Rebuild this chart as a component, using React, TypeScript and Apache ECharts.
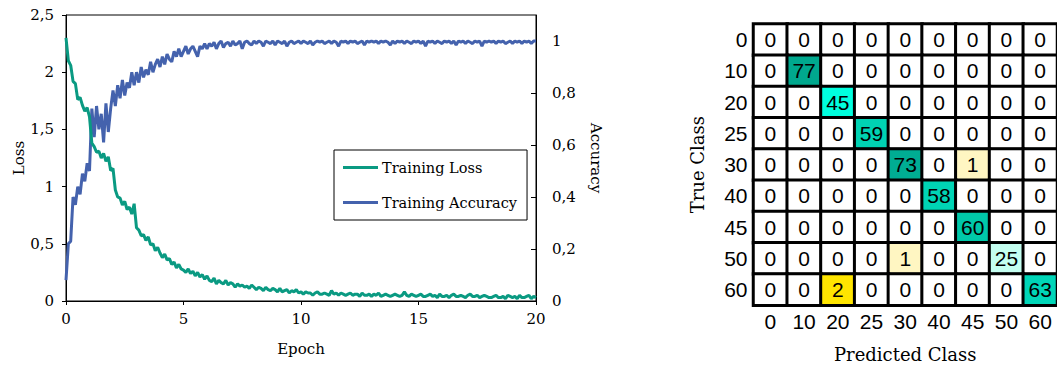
import React, { useEffect, useRef } from "react";
import * as echarts from "echarts";

const EPOCH_STEP = 0.1;

const lossValues = [
  2.30, 2.10, 2.06, 1.92, 1.90, 1.76, 1.78, 1.71, 1.66, 1.69, 1.61,
  1.38, 1.35, 1.30, 1.31, 1.25, 1.29, 1.22, 1.26, 1.14, 1.16,
  0.97, 0.91, 0.90, 0.84, 0.87, 0.80, 0.82, 0.76, 0.85, 0.64,
  0.62, 0.57, 0.58, 0.53, 0.56, 0.49, 0.50, 0.44, 0.47, 0.42,
  0.38, 0.41, 0.36, 0.37, 0.32, 0.34, 0.29, 0.32, 0.28, 0.27,
  0.25, 0.28, 0.24, 0.26, 0.22, 0.25, 0.21, 0.23, 0.19, 0.22,
  0.18, 0.17, 0.20, 0.15, 0.18, 0.16, 0.15, 0.18, 0.14, 0.16,
  0.15, 0.12, 0.15, 0.13, 0.14, 0.12, 0.13, 0.11, 0.14, 0.12,
  0.10, 0.12, 0.11, 0.09, 0.12, 0.10, 0.09, 0.11, 0.10, 0.08,
  0.11, 0.08, 0.09, 0.10, 0.07, 0.09, 0.08, 0.10, 0.07, 0.08,
  0.06, 0.08, 0.07, 0.07, 0.05, 0.07, 0.08, 0.06, 0.06, 0.07,
  0.06, 0.05, 0.09, 0.06, 0.07, 0.05, 0.07, 0.06, 0.05, 0.06,
  0.07, 0.05, 0.06, 0.06, 0.04, 0.07, 0.05, 0.05, 0.06, 0.04,
  0.06, 0.05, 0.07, 0.04, 0.05, 0.06, 0.05, 0.04, 0.05, 0.06,
  0.05, 0.04, 0.05, 0.08, 0.05, 0.04, 0.06, 0.05, 0.04, 0.05,
  0.06, 0.04, 0.04, 0.05, 0.06, 0.04, 0.05, 0.03, 0.06, 0.04,
  0.04, 0.05, 0.03, 0.05, 0.06, 0.04, 0.04, 0.05, 0.04, 0.03,
  0.05, 0.06, 0.04, 0.04, 0.05, 0.03, 0.04, 0.05, 0.04, 0.03,
  0.03, 0.04, 0.05, 0.03, 0.03, 0.04, 0.02, 0.05, 0.04, 0.03,
  0.04, 0.02, 0.05, 0.03, 0.03, 0.04, 0.05, 0.02, 0.04, 0.03,
];

const accuracyValues = [
  0.08, 0.22, 0.23, 0.40, 0.37, 0.44, 0.41, 0.49, 0.46, 0.53, 0.50,
  0.74, 0.63, 0.75, 0.66, 0.72, 0.61, 0.76, 0.65, 0.74, 0.81,
  0.75, 0.83, 0.78, 0.85, 0.79, 0.84, 0.82, 0.88, 0.83, 0.88,
  0.84, 0.90, 0.86, 0.89, 0.87, 0.92, 0.88, 0.91, 0.93, 0.90,
  0.94, 0.91, 0.95, 0.93, 0.92, 0.96, 0.94, 0.97, 0.94, 0.96,
  0.98, 0.95, 0.97, 0.98, 0.96, 0.94, 0.98, 0.97, 0.99, 0.97,
  0.99, 0.98, 0.995, 0.97, 0.99, 1.00, 0.975, 0.99, 0.995, 0.98,
  1.00, 0.985, 0.99, 1.00, 0.97, 0.995, 1.00, 0.99, 0.985, 1.00,
  0.99, 1.00, 0.995, 0.98, 1.00, 0.995, 0.99, 1.00, 0.985, 1.00,
  0.995, 0.99, 1.00, 0.98, 0.995, 1.00, 0.99, 0.995, 1.00, 0.99,
  1.00, 0.995, 0.99, 1.00, 0.985, 0.995, 1.00, 0.995, 1.00, 0.99,
  0.995, 1.00, 0.99, 1.00, 0.995, 0.98, 1.00, 0.995, 1.00, 0.99,
  1.00, 0.995, 1.00, 0.99, 0.995, 1.00, 0.985, 1.00, 0.995, 1.00,
  0.995, 1.00, 0.99, 1.00, 0.995, 1.00, 0.995, 0.985, 1.00, 0.99,
  1.00, 0.995, 1.00, 0.99, 1.00, 0.995, 0.99, 1.00, 0.995, 1.00,
  0.99, 1.00, 0.98, 1.00, 0.995, 1.00, 0.99, 1.00, 0.995, 0.99,
  1.00, 0.995, 1.00, 0.99, 1.00, 0.985, 1.00, 0.995, 1.00, 0.99,
  1.00, 0.995, 0.99, 1.00, 0.995, 1.00, 0.98, 1.00, 0.995, 1.00,
  0.995, 1.00, 0.99, 1.00, 0.995, 1.00, 0.99, 0.995, 1.00, 0.99,
  1.00, 0.995, 1.00, 0.99, 1.00, 0.995, 1.00, 0.99, 1.00, 1.00,
];

const classLabels = ["0", "10", "20", "25", "30", "40", "45", "50", "60"];

// rows: true class (top to bottom), columns: predicted class
const confusion = [
  [0, 0, 0, 0, 0, 0, 0, 0, 0],
  [0, 77, 0, 0, 0, 0, 0, 0, 0],
  [0, 0, 45, 0, 0, 0, 0, 0, 0],
  [0, 0, 0, 59, 0, 0, 0, 0, 0],
  [0, 0, 0, 0, 73, 0, 1, 0, 0],
  [0, 0, 0, 0, 0, 58, 0, 0, 0],
  [0, 0, 0, 0, 0, 0, 60, 0, 0],
  [0, 0, 0, 0, 1, 0, 0, 25, 0],
  [0, 0, 2, 0, 0, 0, 0, 0, 63],
];

const cellPieces = [
  { value: 0, color: "#ffffff" },
  { value: 1, color: "#fff6c2" },
  { value: 2, color: "#ffe500" },
  { value: 25, color: "#c4fff1" },
  { value: 45, color: "#00ffdf" },
  { value: 58, color: "#00d4b5" },
  { value: 59, color: "#00d2b3" },
  { value: 60, color: "#00c8a9" },
  { value: 63, color: "#00d6b8" },
  { value: 73, color: "#00ad93" },
  { value: 77, color: "#00a88e" },
];

const SERIF = "'DejaVu Serif', serif";
const SANS = "'Liberation Sans', Arial, sans-serif";
const comma = (v: number) => String(v).replace(".", ",");

export default function App() {
  const ref = useRef<HTMLDivElement>(null);

  useEffect(() => {
    document.body.style.margin = "0";
    if (!ref.current) return;
    const chart = echarts.init(ref.current, undefined, { renderer: "svg" });

    const lossData = lossValues.map((v, i) => [+(i * EPOCH_STEP).toFixed(1), v]);
    const accData = accuracyValues.map((v, i) => [+(i * EPOCH_STEP).toFixed(1), v]);
    const heatData: number[][] = [];
    confusion.forEach((row, r) => row.forEach((v, c) => heatData.push([c, r, v])));

    const axisText = { color: "#000", fontFamily: SERIF, fontSize: 15 };

    chart.setOption({
      animation: false,
      backgroundColor: "#fff",
      grid: [
        { left: 66, top: 15, width: 470, height: 286, show: true, borderColor: "#000", borderWidth: 1 },
        { left: 753.5, top: 24, width: 308.7, height: 281.3 },
      ],
      legend: {
        left: 334,
        top: 150,
        orient: "vertical",
        borderColor: "#000",
        borderWidth: 1,
        padding: [10, 10, 10, 9],
        itemGap: 20,
        itemWidth: 35,
        itemHeight: 3,
        icon: "rect",
        textStyle: { color: "#000", fontFamily: SERIF, fontSize: 14.5, padding: [0, 0, 0, -1] },
        data: ["Training Loss", "Training Accuracy"],
      },
      xAxis: [
        {
          type: "value",
          gridIndex: 0,
          min: 0,
          max: 20,
          interval: 5,
          name: "Epoch",
          nameLocation: "middle",
          nameGap: 40,
          nameTextStyle: axisText,
          axisLine: { lineStyle: { color: "#000", width: 1 } },
          axisTick: { show: true, length: 4, lineStyle: { color: "#000" } },
          axisLabel: { ...axisText, margin: 10 },
          splitLine: { show: false },
        },
        {
          type: "category",
          gridIndex: 1,
          data: classLabels,
          name: "Predicted Class",
          nameLocation: "middle",
          nameGap: 40,
          nameTextStyle: { color: "#000", fontFamily: SERIF, fontSize: 18 },
          axisLine: { show: false },
          axisTick: { show: false },
          axisLabel: { color: "#000", fontFamily: SANS, fontSize: 21, margin: 6 },
          splitLine: { show: false },
        },
      ],
      yAxis: [
        {
          type: "value",
          gridIndex: 0,
          min: 0,
          max: 2.5,
          interval: 0.5,
          name: "Loss",
          nameLocation: "middle",
          nameGap: 40,
          nameTextStyle: axisText,
          axisLine: { show: true, lineStyle: { color: "#000", width: 1 } },
          axisTick: { show: true, length: 4, lineStyle: { color: "#000" } },
          axisLabel: { ...axisText, margin: 12, formatter: comma },
          splitLine: { show: false },
        },
        {
          type: "value",
          gridIndex: 0,
          position: "right",
          min: 0,
          max: 1.1,
          interval: 0.2,
          name: "Accuracy",
          nameLocation: "middle",
          nameGap: 52,
          nameRotate: -90,
          nameTextStyle: axisText,
          axisLine: { show: true, lineStyle: { color: "#000", width: 1 } },
          axisTick: { show: true, inside: true, length: 5, lineStyle: { color: "#000" } },
          axisLabel: { ...axisText, margin: 16, formatter: comma, showMaxLabel: false },
          splitLine: { show: false },
        },
        {
          type: "category",
          gridIndex: 1,
          inverse: true,
          data: classLabels,
          name: "True Class",
          nameLocation: "middle",
          nameGap: 47,
          nameTextStyle: { color: "#000", fontFamily: SERIF, fontSize: 18 },
          axisLine: { show: false },
          axisTick: { show: false },
          axisLabel: { color: "#000", fontFamily: SANS, fontSize: 21, margin: 6 },
          splitLine: { show: false },
        },
      ],
      visualMap: {
        type: "piecewise",
        show: false,
        seriesIndex: 2,
        dimension: 2,
        pieces: cellPieces,
      },
      series: [
        {
          name: "Training Loss",
          type: "line",
          xAxisIndex: 0,
          yAxisIndex: 0,
          data: lossData,
          showSymbol: false,
          symbol: "none",
          color: "#0a9a82",
          lineStyle: { width: 3, color: "#0a9a82" },
          z: 3,
        },
        {
          name: "Training Accuracy",
          type: "line",
          xAxisIndex: 0,
          yAxisIndex: 1,
          data: accData,
          showSymbol: false,
          symbol: "none",
          color: "#4462ad",
          lineStyle: { width: 3, color: "#4462ad" },
          z: 2,
        },
        {
          name: "Confusion",
          type: "heatmap",
          xAxisIndex: 1,
          yAxisIndex: 2,
          data: heatData,
          label: {
            show: true,
            color: "#000",
            fontFamily: SANS,
            fontSize: 21,
            formatter: (p: any) => String(p.value[2]),
          },
          itemStyle: { borderColor: "#000", borderWidth: 3 },
          emphasis: { disabled: true },
        },
      ],
    });

    return () => chart.dispose();
  }, []);

  return <div ref={ref} style={{ width: 1057, height: 369 }} />;
}
